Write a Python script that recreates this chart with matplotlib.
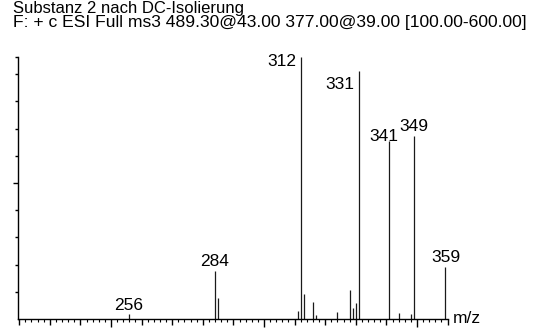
import matplotlib.pyplot as plt
import numpy as np
from matplotlib.ticker import MultipleLocator

plt.rcParams['font.family'] = ['Liberation Sans', 'DejaVu Sans']

# spectrum: m/z and relative abundance
mz = [256, 284, 285, 311, 312, 313, 316, 317, 324, 328, 329, 330, 331,
      341, 344, 348, 349, 359]
rel = [1.8, 17.7, 7.6, 3.1, 96.5, 9.2, 6.4, 1.5, 2.6, 10.7, 3.9, 6.0, 91.3,
       65.3, 2.2, 1.8, 67.4, 19.3]

# labelled peaks and where their text sits (offset in points, alignment)
labels = [256, 284, 312, 331, 341, 349, 359]
label_style = {
    256: ((-0.5, 3.0), 'center'),
    284: ((0, 3.5), 'center'),
    312: ((-3.0, -6.5), 'right'),
    331: ((-3.5, -13.5), 'right'),
    341: ((6.5, 0), 'right'),
    349: ((0, 3.5), 'center'),
    359: ((1.0, 3.0), 'center'),
}

W, H = 542, 328
fig = plt.figure(figsize=(W / 100, H / 100), dpi=100)
x0, x1 = 18, 447.6
y0, y1 = 319, 47
ax = fig.add_axes([x0 / W, 1 - y0 / H, (x1 - x0) / W, (y0 - y1) / H])

ax.vlines(mz, 0, rel, colors='#1a1a1a', linewidth=0.9)

for m in labels:
    h = rel[mz.index(m)]
    (dx, dy), ha = label_style[m]
    ax.annotate(str(m), (m, h), xytext=(dx, dy), textcoords='offset points',
                ha=ha, va='baseline', fontsize=12.5)

ax.set_xlim(219.6, 360)
ax.set_ylim(0, 100)

for s in ['top', 'right']:
    ax.spines[s].set_visible(False)
ax.spines['left'].set_bounds(0, max(rel))
ax.spines['left'].set_linewidth(1.0)
ax.spines['bottom'].set_linewidth(1.0)

# x axis: ticks every 10 and 2, longer ones every 50
ax.xaxis.set_major_locator(MultipleLocator(10))
ax.xaxis.set_minor_locator(MultipleLocator(2))
ax.tick_params(axis='x', which='major', direction='out', length=4, width=1,
               labelbottom=False)
ax.tick_params(axis='x', which='minor', direction='out', length=2, width=0.8)
fig.canvas.draw()
for t, v in zip(ax.xaxis.get_major_ticks(), ax.get_xticks()):
    if v % 50 == 0:
        t.tick1line.set_markersize(6)

# y axis: ticks every 10, longer one at 50, plus the top mark
yt = list(range(10, 100, 10)) + [max(rel)]
ax.set_yticks(yt)
ax.tick_params(axis='y', direction='out', length=2.2, width=1,
               labelleft=False)
for t, v in zip(ax.yaxis.get_major_ticks(), yt):
    if v == 50:
        t.tick1line.set_markersize(3.8)

fig.text(13 / W, 1 - 12.5 / H, 'Substanz 2 nach DC-Isolierung',
         fontsize=12, va='baseline')
fig.text(13 / W, 1 - 26.5 / H,
         'F: + c ESI Full ms3 489.30@43.00 377.00@39.00 [100.00-600.00]',
         fontsize=12.6, va='baseline')
fig.text(453 / W, 1 - 323 / H, 'm/z', fontsize=12.5, va='baseline')

fig.savefig('out.png', dpi=100)
